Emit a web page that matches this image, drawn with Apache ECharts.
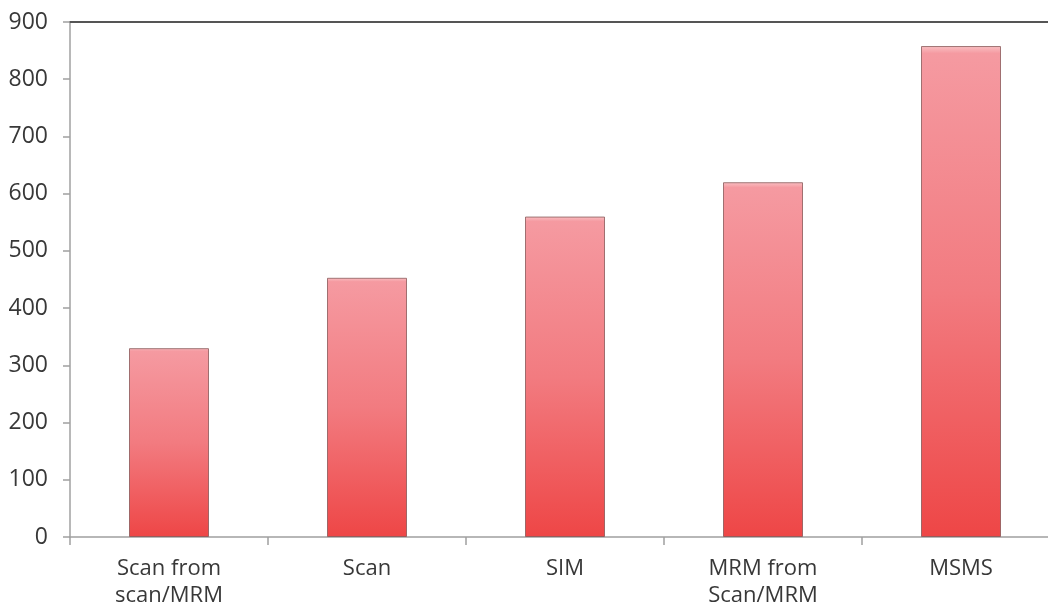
<!DOCTYPE html>
<html><head><meta charset="utf-8">
<script src="https://cdn.jsdelivr.net/npm/echarts@6/dist/echarts.min.js"></script>
<style>html,body{margin:0;padding:0;background:#fff}#c{width:1048px;height:607px}</style>
</head><body><div id="c"></div>
<script>
const categories = ['Scan from\nscan/MRM', 'Scan', 'SIM', 'MRM from\nScan/MRM', 'MSMS'];
const values = [330, 453, 560, 620, 858];
const yTicks = [0, 100, 200, 300, 400, 500, 600, 700, 800, 900];

const chart = echarts.init(document.getElementById('c'), null, {renderer: 'canvas'});
const font = '"Open Sans", "Noto Sans", sans-serif';
chart.setOption({
  animation: false,
  grid: {left: 70, right: -12, top: 22, bottom: 70, containLabel: false, outerBoundsMode: 'none'},
  xAxis: [{
    type: 'category', data: categories,
    axisLine: {lineStyle: {color: '#a0a0a0', width: 1.5}},
    axisTick: {show: true, length: 8, lineStyle: {color: '#a0a0a0', width: 1.5}},
    axisLabel: {color: '#383838', fontSize: 22, fontFamily: font, margin: 18, lineHeight: 27}
  }, {
    type: 'category', data: categories, position: 'top',
    axisLine: {show: true, lineStyle: {color: '#555', width: 2}},
    axisTick: {show: false}, axisLabel: {show: false}
  }],
  yAxis: {
    type: 'value', min: 0, max: 900, interval: 100,
    axisLine: {show: true, lineStyle: {color: '#a0a0a0', width: 1.5}},
    axisTick: {show: true, length: 7, lineStyle: {color: '#a0a0a0', width: 1.5}},
    splitLine: {show: false},
    axisLabel: {color: '#383838', fontSize: 23, fontFamily: font, margin: 22,
      formatter: v => yTicks.includes(v) ? String(v) : ''}
  },
  series: [{
    type: 'bar', data: values, barWidth: 80,
    itemStyle: {
      color: new echarts.graphic.LinearGradient(0, 0, 0, 1, [
        {offset: 0, color: '#f9c0c3'},
        {offset: 0.015, color: '#f59aa1'},
        {offset: 0.5, color: '#f27b80'},
        {offset: 1, color: '#ee4646'}
      ]),
      borderColor: 'rgba(130,80,80,0.75)', borderWidth: 1
    }
  }]
});
</script></body></html>
